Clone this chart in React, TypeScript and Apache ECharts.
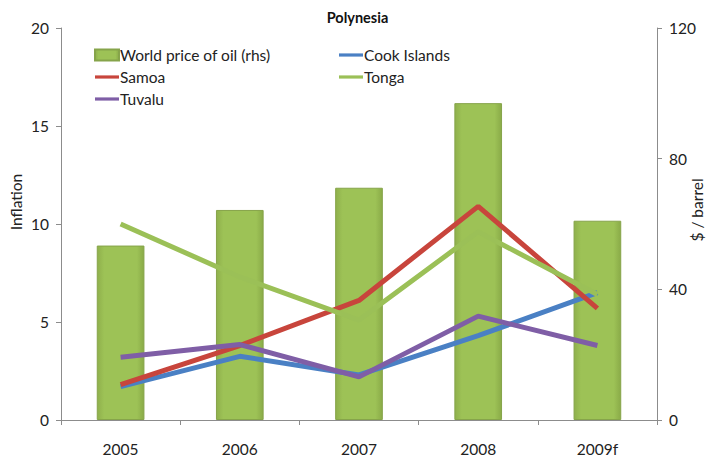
import React, { useEffect, useRef } from "react";
import * as echarts from "echarts";

const years = ["2005", "2006", "2007", "2008", "2009f"];
const oilPrice = [53.4, 64.3, 71.1, 97.0, 61.0];
const cookIslands = [1.7, 3.25, 2.3, 4.3, 6.5];
const samoa = [1.8, 3.8, 6.1, 10.9, 5.7];
const tonga = [10.0, 7.3, 5.1, 9.6, 6.4];
const tuvalu = [3.2, 3.85, 2.2, 5.3, 3.8];

const FONT = "Lato, 'Open Sans', sans-serif";
const AXIS_GREY = "#8c8c8c";
const LINE_ICON = "path://M0,0 L24,0 L24,3.2 L0,3.2 Z";

export default function App() {
  const ref = useRef<HTMLDivElement>(null);

  useEffect(() => {
    document.body.style.margin = "0";
    if (!ref.current) return;
    const chart = echarts.init(ref.current, undefined, { renderer: "svg" });

    const lineSeries = (name: string, data: number[], color: string) => ({
      name,
      type: "line",
      yAxisIndex: 0,
      data,
      symbol: "none",
      lineStyle: { width: 5, color },
      itemStyle: { color },
      z: 3,
    });

    const legendText = { fontFamily: FONT, fontSize: 15.5, color: "#222", padding: [0, 0, 0, -4] };

    chart.setOption({
      animation: false,
      backgroundColor: "#ffffff",
      textStyle: { fontFamily: FONT },
      title: {
        text: "Polynesia",
        left: "center",
        top: 5,
        textStyle: { fontFamily: FONT, fontSize: 14.5, fontWeight: "bold", color: "#111" },
      },
      grid: { left: 61, right: 58, top: 28, bottom: 41 },
      legend: [
        {
          orient: "vertical",
          left: 89,
          top: 42,
          itemGap: 6,
          itemWidth: 24,
          itemHeight: 11,
          textStyle: legendText,
          data: [
            { name: "World price of oil (rhs)", icon: "rect" },
            { name: "Samoa", icon: LINE_ICON },
            { name: "Tuvalu", icon: LINE_ICON },
          ],
        },
        {
          orient: "vertical",
          left: 334,
          top: 42,
          itemGap: 6,
          itemWidth: 24,
          itemHeight: 11,
          textStyle: legendText,
          data: [
            { name: "Cook Islands", icon: LINE_ICON },
            { name: "Tonga", icon: LINE_ICON },
          ],
        },
      ],
      xAxis: {
        type: "category",
        data: years,
        boundaryGap: true,
        axisLine: { lineStyle: { color: AXIS_GREY, width: 1 } },
        axisTick: { show: true, length: 5, inside: false, lineStyle: { color: AXIS_GREY } },
        axisLabel: { fontFamily: FONT, fontSize: 15.5, color: "#222", margin: 21 },
      },
      yAxis: [
        {
          type: "value",
          min: 0,
          max: 20,
          interval: 5,
          position: "left",
          splitLine: { show: false },
          axisLine: { show: true, lineStyle: { color: AXIS_GREY } },
          axisTick: { show: true, length: 5, lineStyle: { color: AXIS_GREY } },
          axisLabel: { fontFamily: FONT, fontSize: 15.5, color: "#222", margin: 12 },
        },
        {
          type: "value",
          min: 0,
          max: 120,
          interval: 40,
          position: "right",
          splitLine: { show: false },
          axisLine: { show: true, lineStyle: { color: AXIS_GREY } },
          axisTick: { show: true, length: 5, lineStyle: { color: AXIS_GREY } },
          axisLabel: { fontFamily: FONT, fontSize: 15.5, color: "#222", margin: 12 },
        },
      ],
      graphic: [
        {
          type: "text",
          x: 16,
          y: 202,
          rotation: Math.PI / 2,
          style: {
            text: "Inflation",
            fontFamily: FONT,
            fontSize: 15.5,
            fill: "#222",
            align: "center",
            verticalAlign: "middle",
          },
        },
        {
          type: "text",
          x: 697,
          y: 210,
          rotation: Math.PI / 2,
          style: {
            text: "$ / barrel",
            fontFamily: FONT,
            fontSize: 15.5,
            fill: "#222",
            align: "center",
            verticalAlign: "middle",
          },
        },
      ],
      series: [
        {
          name: "World price of oil (rhs)",
          type: "bar",
          yAxisIndex: 1,
          data: oilPrice,
          barWidth: "40%",
          itemStyle: {
            color: new echarts.graphic.LinearGradient(0, 0, 1, 0, [
              { offset: 0, color: "#8fb04c" },
              { offset: 0.15, color: "#9dc256" },
              { offset: 0.85, color: "#9dc256" },
              { offset: 1, color: "#8aab48" },
            ]),
            borderColor: "#86a44a",
            borderWidth: 1,
          },
          z: 2,
        },
        lineSeries("Cook Islands", cookIslands, "#4a80c4"),
        lineSeries("Samoa", samoa, "#c8453c"),
        lineSeries("Tonga", tonga, "#9bc057"),
        lineSeries("Tuvalu", tuvalu, "#7f5ea6"),
      ],
    });

    return () => chart.dispose();
  }, []);

  return <div ref={ref} style={{ width: 715, height: 461 }} />;
}
